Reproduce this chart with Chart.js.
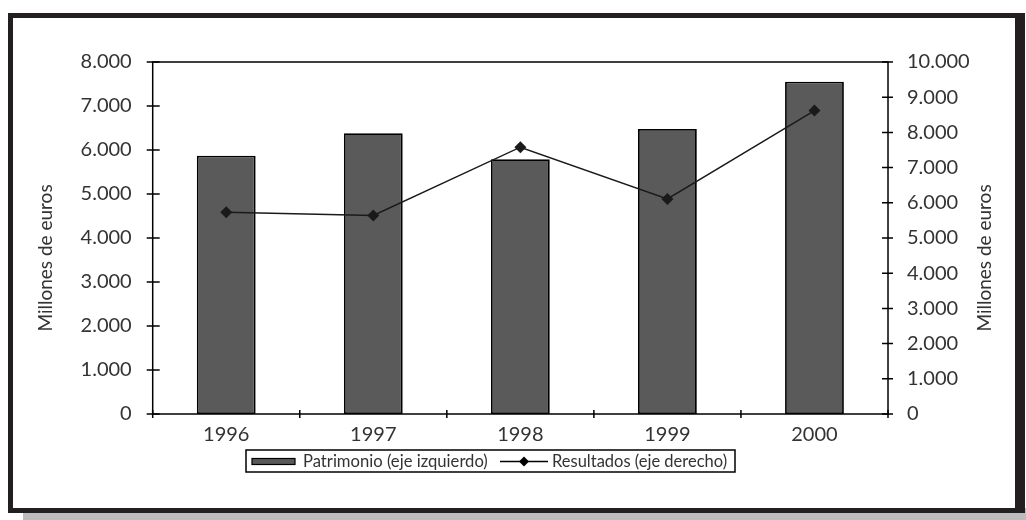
<!DOCTYPE html>
<html><head><meta charset="utf-8">
<script src="https://cdn.jsdelivr.net/npm/chart.js@4.4.1/dist/chart.umd.min.js"></script>
<style>html,body{margin:0;padding:0;background:#fff;}canvas{display:block;}</style>
</head><body>
<canvas id="c" width="1026" height="520"></canvas>
<script>
const categories = ['1996', '1997', '1998', '1999', '2000'];
const patrimonio = [5870, 6380, 5790, 6480, 7550];
const resultados = [5730, 5640, 7580, 6110, 8620];
const leftTicks = [0, 1000, 2000, 3000, 4000, 5000, 6000, 7000, 8000];
const rightTicks = [0, 1000, 2000, 3000, 4000, 5000, 6000, 7000, 8000, 9000, 10000];
const seriesNames = ['Patrimonio (eje izquierdo)', 'Resultados (eje derecho)'];
const axisTitle = 'Millones de euros';

const FONT = 'Lato, "Open Sans", sans-serif';
const WEIGHT = '400';
const TXT = '#333333';
const fmt = v => String(v).replace(/\B(?=(\d{3})+(?!\d))/g, '.');

function fitFont(c, text, width, base) {
  c.font = WEIGHT + ' ' + base + 'px ' + FONT;
  const m = c.measureText(text).width;
  const s = Math.min(base, base * width / m);
  c.font = WEIGHT + ' ' + s.toFixed(2) + 'px ' + FONT;
}

const framePlugin = {
  id: 'frame',
  beforeDraw(chart) {
    const c = chart.ctx;
    c.save();
    c.fillStyle = '#fff';
    c.fillRect(0, 0, chart.width, chart.height);
    c.fillStyle = '#bcbcbe';
    c.fillRect(23, 508, 1003, 12);
    c.fillStyle = '#231f20';
    c.fillRect(8, 13, 1017, 5);
    c.fillRect(8, 13, 5, 500);
    c.fillRect(8, 508, 1017, 5);
    c.fillRect(1015, 13, 10, 500);
    c.restore();
  },
  afterDatasetsDraw(chart) {
    const c = chart.ctx;
    const a = chart.chartArea;
    const ys = chart.scales.y, y2 = chart.scales.y2;
    c.save();
    c.strokeStyle = '#000';
    c.lineWidth = 1.5;
    c.strokeRect(a.left, a.top, a.right - a.left, a.bottom - a.top);
    c.beginPath();
    ys.ticks.forEach(t => {
      const py = ys.getPixelForValue(t.value);
      c.moveTo(a.left - 6, py); c.lineTo(a.left + 7, py);
    });
    y2.ticks.forEach(t => {
      const py = y2.getPixelForValue(t.value);
      c.moveTo(a.right - 6, py); c.lineTo(a.right + 5, py);
    });
    const n = categories.length;
    const w = (a.right - a.left) / n;
    for (let i = 0; i <= n; i++) {
      const px = a.left + i * w;
      c.moveTo(px, a.bottom - 4); c.lineTo(px, a.bottom + 4);
    }
    c.stroke();

    // axis titles
    c.fillStyle = TXT;
    fitFont(c, axisTitle, 163, 19);
    c.textAlign = 'center';
    c.textBaseline = 'middle';
    [[45.5, 258], [985, 258]].forEach(([x, y]) => {
      c.save();
      c.translate(x, y);
      c.rotate(-Math.PI / 2);
      c.fillText(axisTitle, 0, 0);
      c.restore();
    });

    // legend
    const lx = 246, ly = 450, lw = 489, lh = 22;
    c.fillStyle = '#fff';
    c.fillRect(lx, ly, lw, lh);
    c.lineWidth = 1.5;
    c.strokeStyle = '#000';
    c.strokeRect(lx, ly, lw, lh);
    const cy = ly + lh / 2 + 0.5;
    c.fillStyle = '#595959';
    c.fillRect(252, cy - 3, 43, 6);
    c.lineWidth = 1.2;
    c.strokeRect(252, cy - 3, 43, 6);
    c.beginPath();
    c.lineWidth = 1.5;
    c.moveTo(500, cy); c.lineTo(548, cy);
    c.stroke();
    c.fillStyle = '#000';
    c.beginPath();
    c.moveTo(524, cy - 5); c.lineTo(529, cy); c.lineTo(524, cy + 5); c.lineTo(519, cy);
    c.closePath(); c.fill();
    c.fillStyle = TXT;
    c.textAlign = 'left';
    fitFont(c, seriesNames[0], 185, 17);
    c.fillText(seriesNames[0], 303, cy);
    fitFont(c, seriesNames[1], 175, 17);
    c.fillText(seriesNames[1], 552, cy);
    c.restore();
  }
};

const tickFont = { family: FONT, size: 20, weight: WEIGHT };

new Chart(document.getElementById('c'), {
  data: {
    labels: categories,
    datasets: [
      {
        type: 'line', label: seriesNames[1], data: resultados, yAxisID: 'y2', order: 0,
        borderColor: '#1a1a1a', borderWidth: 1.5, backgroundColor: '#1a1a1a',
        pointStyle: 'rectRot', pointRadius: 6, pointBorderWidth: 0, tension: 0
      },
      {
        type: 'bar', label: seriesNames[0], data: patrimonio, yAxisID: 'y', order: 1,
        backgroundColor: '#5a5a5a', borderColor: '#000', borderWidth: 1.8, borderSkipped: false,
        barPercentage: 0.4, categoryPercentage: 1
      }
    ]
  },
  plugins: [framePlugin],
  options: {
    responsive: false, animation: false, devicePixelRatio: 1,
    layout: { padding: { top: 62, left: 0, right: 0, bottom: 0 } },
    plugins: { legend: { display: false }, tooltip: { enabled: false }, title: { display: false } },
    scales: {
      x: {
        type: 'category', offset: true,
        grid: { display: false }, border: { display: false },
        ticks: { color: TXT, font: tickFont, padding: 1, maxRotation: 0 },
        afterFit: s => { s.height = 106; }
      },
      y: {
        position: 'left', min: 0, max: 8000,
        grid: { display: false }, border: { display: false },
        ticks: { color: TXT, font: tickFont, padding: 13, callback: v => fmt(v) },
        afterBuildTicks: s => { s.ticks = leftTicks.map(v => ({ value: v })); },
        afterFit: s => { s.width = 152.7; }
      },
      y2: {
        position: 'right', min: 0, max: 10000,
        grid: { display: false }, border: { display: false },
        ticks: { color: TXT, font: tickFont, padding: 11, callback: v => fmt(v) },
        afterBuildTicks: s => { s.ticks = rightTicks.map(v => ({ value: v })); },
        afterFit: s => { s.width = 138; }
      }
    }
  }
});
</script>
</body></html>
